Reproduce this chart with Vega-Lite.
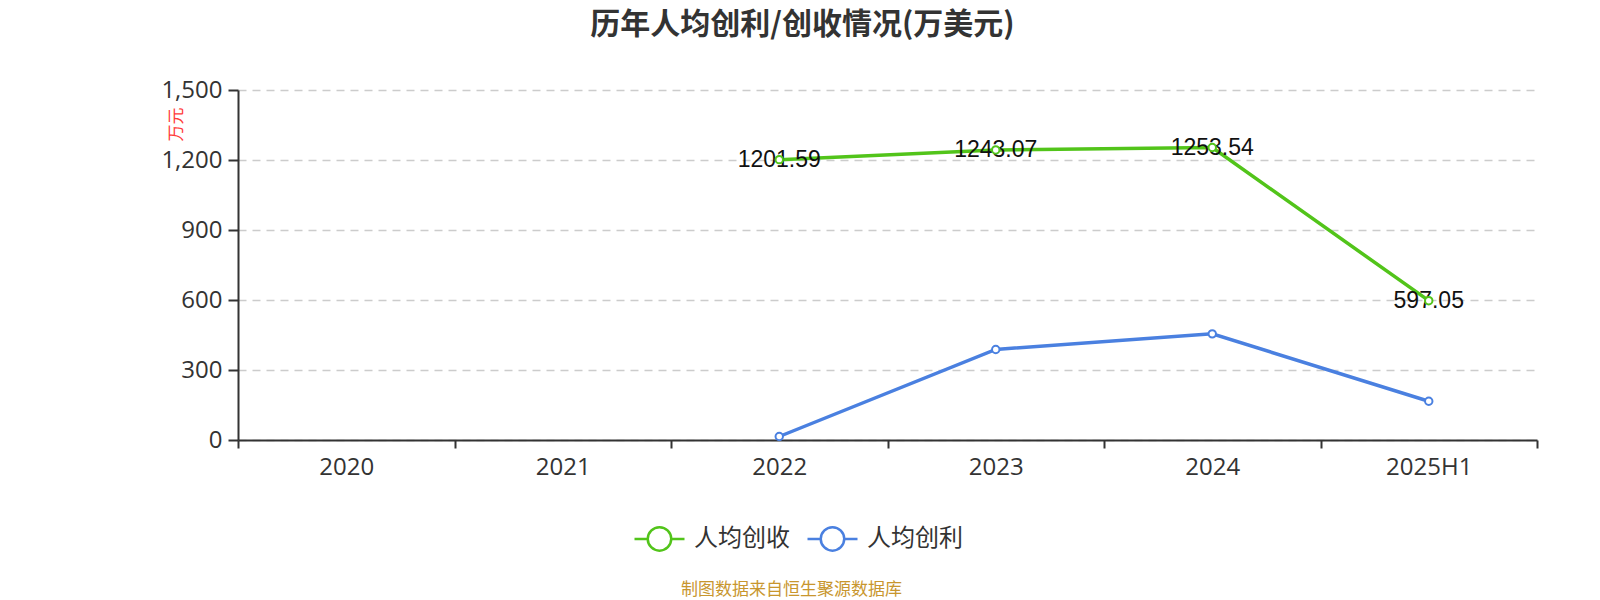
{
  "$schema": "https://vega.github.io/schema/vega-lite/v6.json",
  "width": 1299,
  "height": 350,
  "autosize": {"type": "none"},
  "padding": {"left": 238, "top": 90, "right": 63, "bottom": 160},
  "background": "white",
  "title": {
    "text": "历年人均创利/创收情况(万美元)",
    "anchor": "middle",
    "dx": -85,
    "dy": -34,
    "fontSize": 30,
    "font": "Noto Sans CJK SC",
    "fontWeight": "bold",
    "color": "#333333"
  },
  "config": {"view": {"stroke": null}},
  "data": {
    "values": [
      {"year": "2022", "series": "人均创收", "value": 1201.59},
      {"year": "2023", "series": "人均创收", "value": 1243.07},
      {"year": "2024", "series": "人均创收", "value": 1253.54},
      {"year": "2025H1", "series": "人均创收", "value": 597.05},
      {"year": "2022", "series": "人均创利", "value": 15},
      {"year": "2023", "series": "人均创利", "value": 388},
      {"year": "2024", "series": "人均创利", "value": 455},
      {"year": "2025H1", "series": "人均创利", "value": 166}
    ]
  },
  "encoding": {
    "x": {
      "field": "year",
      "type": "ordinal",
      "sort": null,
      "scale": {"type": "band", "domain": ["2020", "2021", "2022", "2023", "2024", "2025H1"], "paddingInner": 0, "paddingOuter": 0},
      "axis": {
        "title": "制图数据来自恒生聚源数据库",
        "titleColor": "#c8962e",
        "titleFont": "Noto Sans CJK SC",
        "titleFontSize": 17,
        "titleFontWeight": "normal",
        "titleX": 553,
        "titleY": 149,
        "titleAlign": "center",
        "titleBaseline": "middle",
        "labelAngle": 0,
        "labelFont": "Open Sans",
        "labelFontSize": 24,
        "labelColor": "#333333",
        "labelPadding": 7,
        "tickBand": "extent",
        "tickSize": 8,
        "tickColor": "#333333",
        "tickWidth": 2,
        "domainColor": "#333333",
        "domainWidth": 2,
        "grid": false
      }
    },
    "y": {
      "field": "value",
      "type": "quantitative",
      "scale": {"domain": [0, 1500], "nice": false},
      "axis": {
        "title": "万元",
        "titleColor": "#ff3b3b",
        "titleFont": "Noto Sans CJK SC",
        "titleFontSize": 17,
        "titleFontWeight": "normal",
        "titleX": -62,
        "titleY": 34,
        "titleAlign": "center",
        "titleBaseline": "middle",
        "values": [0, 300, 600, 900, 1200, 1500],
        "format": ",.0f",
        "labelFont": "Open Sans",
        "labelFontSize": 24,
        "labelColor": "#333333",
        "labelPadding": 6,
        "tickSize": 10,
        "tickColor": "#333333",
        "tickWidth": 2,
        "domainColor": "#333333",
        "domainWidth": 2,
        "gridColor": "#cccccc",
        "gridDash": [8, 6],
        "gridWidth": 1.5
      }
    }
  },
  "layer": [
    {
      "mark": {"type": "line", "strokeWidth": 3.5},
      "encoding": {
        "color": {
          "field": "series",
          "type": "nominal",
          "scale": {"domain": ["人均创收", "人均创利"], "range": ["#52c41a", "#4a80e0"]},
          "legend": {
            "orient": "none",
            "legendX": 395,
            "legendY": 422,
            "direction": "horizontal",
            "columns": 2,
            "title": null,
            "symbolType": "M-1,0L-0.47,0M0.47,0L1,0M-0.47,0A0.47,0.47,0,1,1,0.47,0A0.47,0.47,0,1,1,-0.47,0",
            "symbolSize": 2500,
            "symbolStrokeWidth": 2.5,
            "symbolFillColor": "white",
            "labelFont": "Noto Sans CJK SC",
            "labelFontSize": 24,
            "labelColor": "#333333",
            "labelOffset": 8,
            "columnPadding": 12,
            "padding": 0
          }
        }
      }
    },
    {
      "transform": [{"filter": "datum.series === '人均创收'"}],
      "mark": {"type": "text", "font": "Liberation Sans", "fontSize": 23, "color": "#111111", "align": "center", "baseline": "middle"},
      "encoding": {"text": {"field": "value", "type": "quantitative", "format": ".2f"}}
    },
    {
      "mark": {"type": "point", "filled": true, "fill": "white", "size": 55, "strokeWidth": 2, "opacity": 1},
      "encoding": {
        "stroke": {
          "field": "series",
          "type": "nominal",
          "scale": {"domain": ["人均创收", "人均创利"], "range": ["#52c41a", "#4a80e0"]},
          "legend": null
        }
      }
    }
  ]
}
